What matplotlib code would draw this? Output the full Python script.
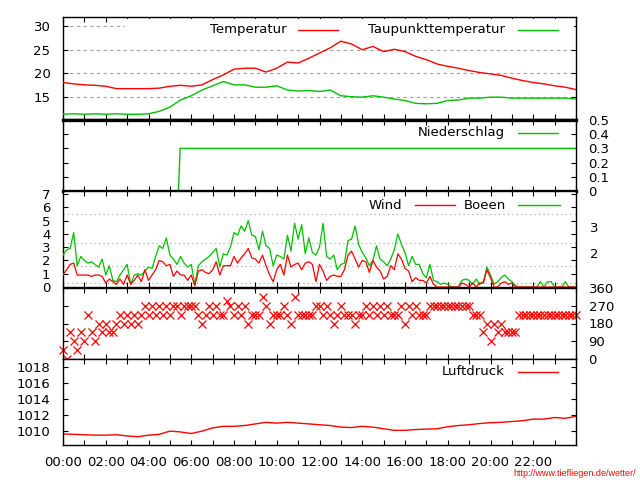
import matplotlib

matplotlib.use("Agg")
import matplotlib.pyplot as plt
import matplotlib.transforms as mtransforms
import numpy as np
from matplotlib.patches import Rectangle

plt.rcParams["font.family"] = ["DejaVu Sans"]
plt.rcParams["font.size"] = 9.5

RED = "#ff0000"
GREEN = "#00c000"
GRID = "#a0a0a0"

# --- data -------------------------------------------------------------
# temperature / dew point, every 30 min from 00:00 to 24:00
temp_hours = np.arange(49) * 0.5
temperatur = [18.1, 17.8, 17.6, 17.5, 17.3, 16.8, 16.8, 16.8, 16.8, 16.9,
              17.3, 17.5, 17.3, 17.6, 18.7, 19.7, 20.9, 21.1, 21.1, 20.3,
              21.1, 22.4, 22.2, 23.2, 24.3, 25.4, 26.8, 26.2, 25.0, 25.7,
              24.6, 25.1, 24.6, 23.6, 22.9, 22.0, 21.5, 21.1, 20.6, 20.2,
              19.9, 19.6, 19.0, 18.5, 18.1, 17.8, 17.4, 17.1, 16.6]
taupunkt = [11.4, 11.5, 11.4, 11.5, 11.4, 11.5, 11.4, 11.4, 11.5, 12.0,
            12.9, 14.4, 15.3, 16.5, 17.4, 18.3, 17.6, 17.6, 17.1, 17.1,
            17.4, 16.5, 16.3, 16.4, 16.2, 16.5, 15.3, 15.1, 15.0, 15.3,
            15.0, 14.6, 14.3, 13.7, 13.6, 13.7, 14.3, 14.4, 14.8, 14.8,
            15.0, 15.0, 14.8, 14.8, 14.8, 14.8, 14.8, 14.8, 14.6]

# precipitation sum (mm)
rain_hours = [0.0, 5.40, 5.48, 24.0]
niederschlag = [0.0, 0.0, 0.3, 0.3]

# wind, gusts (m/s) and direction (deg), every 10 min
wind_hours = np.arange(145) / 6.0
wind = [0.9, 1.3, 1.7, 1.8, 0.9, 0.9, 0.9, 0.9, 0.8, 0.9, 0.9, 0.8, 0.3, 0.6, 0.4, 0.2,
        0.6, 0.2, 0.9, 0.2, 0.5, 0.9, 0.4, 1.3, 0.5, 0.9, 1.3, 2.0, 1.9, 1.6, 1.7, 0.8,
        1.2, 0.9, 0.9, 0.5, 0.9,
        0.1, 1.2, 1.3, 1.1, 1.0, 1.3, 1.9, 0.9, 1.6, 1.6, 1.6, 2.3, 1.8, 2.2, 2.5, 2.9,
        2.2, 2.1, 1.8, 2.4, 1.6, 0.9, 0.4, 1.3, 1.7, 0.9, 2.4, 1.5, 1.7, 1.8, 1.3, 1.8,
        1.9, 1.7, 0.4, 1.7,
        1.2, 0.5, 0.8, 0.9, 0.8, 0.8, 1.3, 2.4, 2.7, 2.1, 1.5, 2.0, 1.9, 1.1, 2.0, 1.5,
        1.2, 0.6, 0.8, 1.6, 1.3, 2.5, 2.1, 1.4, 1.2, 0.4, 0.7, 0.5, 0.5, 0.3, 0.8, 0.2,
        0.0, 0.0, 0.0, 0.0,
        0.0, 0.0, 0.0, 0.3, 0.2, 0.0, 0.3, 0.0, 0.3, 0.3, 1.3, 0.7, 0.0, 0.0, 0.3, 0.4,
        0.2, 0.3, 0.0, 0.0, 0.0, 0.0, 0.0, 0.0, 0.0, 0.0, 0.0, 0.0, 0.0, 0.0, 0.0, 0.0,
        0.0, 0.0, 0.0, 0.0]
boeen = [2.4, 2.8, 2.9, 4.1, 1.6, 2.3, 2.0, 1.8, 1.9, 1.7, 1.5, 2.1, 0.9, 1.6, 0.5, 0.4,
         0.9, 1.3, 1.7, 0.2, 0.9, 1.0, 0.9, 1.2, 1.5, 1.4, 2.3, 3.1, 2.9, 3.7, 2.4, 2.1,
         1.7, 2.3, 1.8, 1.5, 1.7,
         0.2, 1.6, 1.9, 2.1, 2.3, 2.6, 2.9, 1.5, 2.5, 2.4, 3.0, 4.1, 3.9, 4.6, 4.2, 5.0,
         3.9, 3.8, 2.8, 4.2, 3.1, 2.9, 1.6, 2.4, 2.3, 2.1, 3.9, 2.7, 4.8, 3.6, 4.7, 2.5,
         3.7, 2.6, 2.4, 3.0,
         4.8, 2.3, 2.1, 2.4, 1.3, 1.7, 1.8, 3.5, 3.6, 4.6, 3.2, 2.6, 2.2, 1.6, 2.0, 3.1,
         2.1, 1.9, 1.6, 2.1, 2.8, 4.0, 3.2, 2.6, 1.6, 2.3, 1.7, 1.7, 1.0, 0.7, 1.7, 0.5,
         0.4, 0.2, 0.3, 0.2,
         0.0, 0.0, 0.0, 0.5, 0.6, 0.5, 0.2, 0.6, 0.2, 0.4, 1.5, 0.9, 0.2, 0.4, 0.7, 0.9,
         0.6, 0.4, 0.1, 0.0, 0.0, 0.0, 0.0, 0.0, 0.0, 0.4, 0.0, 0.4, 0.4, 0.0, 0.0, 0.0,
         0.4, 0.0, 0.0, 0.0]
richtung = [45, 0, 135, 90, 45, 135, 90, 225, 135, 90,
            180, 135, 180, 135, 135, 180, 225, 180, 225, 180,
            225, 180, 225, 270, 225, 270, 225, 270, 225, 270,
            225, 270, 270, 225, 270, 270, 270, 270, 225, 180,
            225, 270, 225, 270, 225, 225, 292.5, 270, 225, 270,
            225, 270, 180, 225, 225, 225, 315, 270, 180, 225,
            225, 225, 270, 225, 180, 315, 225, 225, 225, 225,
            225, 270, 270, 225, 270, 225, 180, 225, 270, 225,
            225, 225, 180, 225, 225, 270, 225, 270, 225, 270,
            225, 270, 225, 225, 225, 270, 180, 270, 225, 270,
            225, 225, 225, 270, 270, 270, 270, 270, 270, 270,
            270, 270, 270, 270, 270, 225, 225, 225, 135, 180,
            90, 180, 135, 180, 135, 135, 135, 135, 225, 225,
            225, 225, 225, 225, 225, 225, 225, 225, 225, 225,
            225, 225, 225, 225, 225]

# Beaufort class boundaries and labels (m/s)
bft_limits = [0.3, 1.6, 3.3, 5.5]
bft_labels = ["2", "3"]
bft_label_pos = [2.45, 4.4]

# air pressure (hPa), every 30 min
pres_hours = np.arange(49) * 0.5
luftdruck = [1009.65, 1009.6, 1009.55, 1009.5, 1009.5, 1009.55, 1009.4, 1009.3, 1009.5,
             1009.6, 1010.0, 1009.9, 1009.7, 1010.0, 1010.4, 1010.6, 1010.6, 1010.7,
             1010.9, 1011.1, 1011.0, 1011.1, 1011.0, 1010.9, 1010.8, 1010.7, 1010.5,
             1010.45, 1010.6, 1010.5, 1010.3, 1010.1, 1010.1, 1010.2, 1010.25, 1010.3,
             1010.55, 1010.7, 1010.8, 1010.95, 1011.05, 1011.1, 1011.2, 1011.3, 1011.5,
             1011.5, 1011.7, 1011.6, 1011.85]

hour_ticks = list(range(25))
hour_labels = [f"{h:02d}:00" if h % 2 == 0 and h < 24 else "" for h in hour_ticks]


def px_axes(top, bottom):
    # pixel rows of the 640x480 canvas -> figure fraction
    return [63 / 640, 1 - bottom / 480, 513 / 640, (bottom - top) / 480]


def style(ax, ylim, yticks, ylabels, side):
    ax.set_xlim(0, 24)
    ax.set_ylim(*ylim)
    ax.set_xticks(hour_ticks)
    ax.set_xticklabels([])
    ax.set_yticks(yticks)
    ax.set_yticklabels(ylabels)
    ax.tick_params(axis="both", direction="in", length=3.5, width=0.8,
                   top=True, right=True, pad=9,
                   labelleft=(side == "left"), labelright=(side == "right"))
    for sp in ax.spines.values():
        sp.set_linewidth(1.0)


def key(ax, x_end, y, label, color, x0, x1):
    ax.text(x_end, y, label, transform=ax.transAxes, ha="right", va="center", zorder=6)
    ax.plot([x0, x1], [y, y], transform=ax.transAxes, color=color, lw=1.0, zorder=6)


def main():
    fig = plt.figure(figsize=(6.4, 4.8), dpi=100)
    fig.patch.set_facecolor("white")

    # temperatures
    ax1 = fig.add_axes(px_axes(17, 119))
    style(ax1, (10.4, 31.9), [15, 20, 25, 30], ["15", "20", "25", "30"], "left")
    for v in [15, 20, 25, 30]:
        ax1.axhline(v, color=GRID, lw=0.8, ls=(0, (3, 3)), zorder=1)
    ax1.add_patch(Rectangle((0.121, 0.78), 0.875, 0.2, transform=ax1.transAxes,
                            facecolor="white", edgecolor="none", zorder=2))
    ax1.plot(temp_hours, temperatur, color=RED, lw=1.0, zorder=3)
    ax1.plot(temp_hours, taupunkt, color=GREEN, lw=1.0, zorder=3)
    key(ax1, 0.4366, 0.873, "Temperatur", RED, 0.458, 0.536)
    key(ax1, 0.8616, 0.873, "Taupunkttemperatur", GREEN, 0.887, 0.965)

    # precipitation
    ax2 = fig.add_axes(px_axes(120, 191))
    style(ax2, (0, 0.5), [0, 0.1, 0.2, 0.3, 0.4, 0.5],
          ["0", "0.1", "0.2", "0.3", "0.4", "0.5"], "right")
    ax2.spines["top"].set_linewidth(2.4)
    ax2.spines["bottom"].set_linewidth(2.4)
    ax2.plot(rain_hours, niederschlag, color=GREEN, lw=1.0)
    key(ax2, 0.8616, 0.817, "Niederschlag", GREEN, 0.887, 0.965)

    # wind and gusts
    ax3 = fig.add_axes(px_axes(191, 287))
    style(ax3, (0, 7.23), list(range(8)), [str(v) for v in range(8)], "left")
    for v in bft_limits:
        ax3.axhline(v, color=GRID, lw=0.8, ls=(0, (1, 3)), zorder=1)
    ax3.plot(wind_hours, boeen, color=GREEN, lw=0.9, zorder=3)
    ax3.plot(wind_hours, wind, color=RED, lw=0.9, zorder=4)
    trans = mtransforms.blended_transform_factory(ax3.transAxes, ax3.transData)
    for pos, lab in zip(bft_label_pos, bft_labels):
        ax3.text(1 + 14 / 513, pos, lab, transform=trans, ha="left", va="center")
    key(ax3, 0.661, 0.854, "Wind", RED, 0.686, 0.764)
    key(ax3, 0.8635, 0.854, "Boeen", GREEN, 0.887, 0.969)

    # wind direction
    ax4 = fig.add_axes(px_axes(288, 359))
    style(ax4, (0, 360), [0, 90, 180, 270, 360], ["0", "90", "180", "270", "360"], "right")
    ax4.plot(wind_hours, richtung, ls="none", marker="x", ms=5.5, mew=0.9, color=RED,
             clip_on=False)

    # pressure
    ax5 = fig.add_axes(px_axes(359, 445))
    style(ax5, (1008.27, 1019.0), [1010, 1012, 1014, 1016, 1018],
          ["1010", "1012", "1014", "1016", "1018"], "left")
    ax5.plot(pres_hours, luftdruck, color=RED, lw=1.0)
    ax5.set_xticklabels(hour_labels)
    ax5.tick_params(axis="x", labelbottom=True, pad=8)
    key(ax5, 0.8616, 0.849, "Luftdruck", RED, 0.887, 0.965)

    fig.text(636 / 640, 1 - 473 / 480, "http://www.tiefliegen.de/wetter/", ha="right",
             va="center", color=RED, fontsize=6.5, family=["Liberation Sans", "DejaVu Sans"])

    fig.savefig("out.png", dpi=100)
    plt.close(fig)


if __name__ == "__main__":
    main()
